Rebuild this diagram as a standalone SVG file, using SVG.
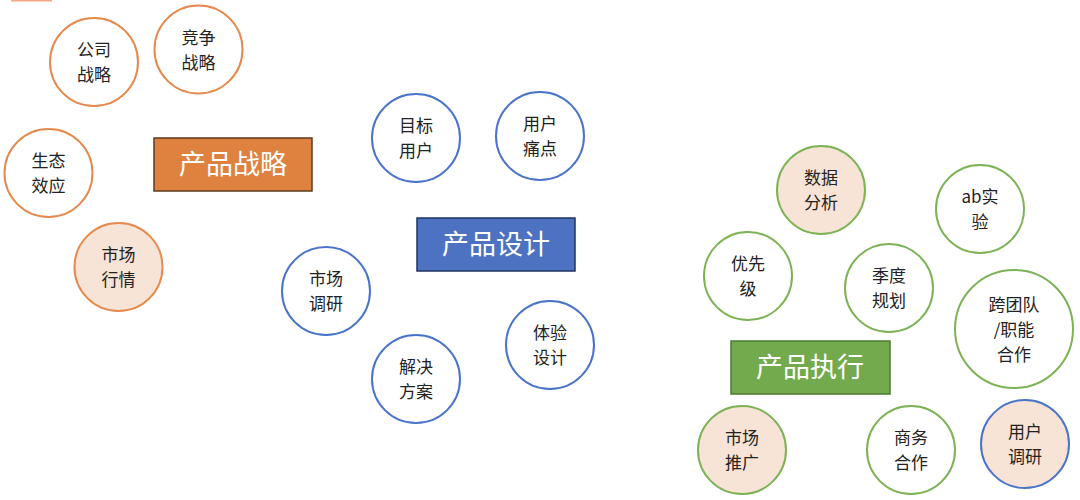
<svg xmlns="http://www.w3.org/2000/svg" width="1080" height="500" viewBox="0 0 1080 500">
<style>
text{font-family:"Noto Sans CJK SC","Noto Sans",sans-serif;text-anchor:middle}
.c text{font-size:17px;fill:#222}
.o{fill:#fff;stroke:#E58A4E;stroke-width:2}
.of{fill:#F8E4D6;stroke:#E58A4E;stroke-width:2}
.b{fill:#fff;stroke:#4A74C9;stroke-width:2}
.g{fill:#fff;stroke:#7DB356;stroke-width:2}
.gf{fill:#F8E4D6;stroke:#7DB356;stroke-width:2}
.bf{fill:#F8E4D6;stroke:#4A74C9;stroke-width:2}
.box text{font-size:27px;fill:#fff}
</style>
<rect width="1080" height="500" fill="#fff"/>
<rect x="11" y="0" width="41" height="1.5" fill="#F4A582"/>
<g id="connectors"></g>

<g id="box-strategy" class="box"><rect x="154" y="138" width="158" height="53" fill="#DF823F" stroke="#5E3B1E" stroke-width="1.5"/><text x="233" y="174">产品战略</text></g>
<g id="box-design" class="box"><rect x="417" y="218" width="158" height="53" fill="#4E72C2" stroke="#1F3560" stroke-width="1.5"/><text x="496" y="254">产品设计</text></g>
<g id="box-exec" class="box"><rect x="731" y="341" width="159" height="53" fill="#74AA4E" stroke="#4E7A32" stroke-width="1.5"/><text x="810" y="377">产品执行</text></g>

<g id="n-gongsi" class="c"><circle cx="94" cy="62" r="44" class="o"/><text x="94" y="56">公司<tspan x="94" dy="25">战略</tspan></text></g>
<g id="n-jingzheng" class="c"><circle cx="198.5" cy="49.5" r="44" class="o"/><text x="198.5" y="43.5">竞争<tspan x="198.5" dy="25">战略</tspan></text></g>
<g id="n-shengtai" class="c"><circle cx="48.5" cy="173" r="44" class="o"/><text x="48.5" y="167">生态<tspan x="48.5" dy="25">效应</tspan></text></g>
<g id="n-hangqing" class="c"><circle cx="118.5" cy="267" r="44" class="of"/><text x="118.5" y="261">市场<tspan x="118.5" dy="25">行情</tspan></text></g>

<g id="n-mubiao" class="c"><circle cx="416" cy="138" r="44" class="b"/><text x="416" y="132">目标<tspan x="416" dy="25">用户</tspan></text></g>
<g id="n-tongdian" class="c"><circle cx="540" cy="136" r="44" class="b"/><text x="540" y="130">用户<tspan x="540" dy="25">痛点</tspan></text></g>
<g id="n-diaoyan" class="c"><circle cx="326" cy="291" r="44" class="b"/><text x="326" y="285">市场<tspan x="326" dy="25">调研</tspan></text></g>
<g id="n-fangan" class="c"><circle cx="416" cy="379" r="44" class="b"/><text x="416" y="373">解决<tspan x="416" dy="25">方案</tspan></text></g>
<g id="n-tiyan" class="c"><circle cx="550" cy="345" r="44" class="b"/><text x="550" y="339">体验<tspan x="550" dy="25">设计</tspan></text></g>

<g id="n-shuju" class="c"><circle cx="821" cy="190" r="44" class="gf"/><text x="821" y="184">数据<tspan x="821" dy="25">分析</tspan></text></g>
<g id="n-ab" class="c"><circle cx="980" cy="209" r="44" class="g"/><text x="980" y="203">ab实<tspan x="980" dy="25">验</tspan></text></g>
<g id="n-youxian" class="c"><circle cx="748" cy="276" r="44" class="g"/><text x="748" y="270">优先<tspan x="748" dy="25">级</tspan></text></g>
<g id="n-jidu" class="c"><circle cx="889" cy="288" r="44" class="g"/><text x="889" y="282">季度<tspan x="889" dy="25">规划</tspan></text></g>
<g id="n-kuatuandui" class="c"><circle cx="1014" cy="329" r="59" class="g"/><text x="1014" y="310.5">跨团队<tspan x="1014" dy="25">/职能</tspan><tspan x="1014" dy="25">合作</tspan></text></g>
<g id="n-tuiguang" class="c"><circle cx="742" cy="450" r="44" class="gf"/><text x="742" y="444">市场<tspan x="742" dy="25">推广</tspan></text></g>
<g id="n-shangwu" class="c"><circle cx="911" cy="450" r="44" class="g"/><text x="911" y="444">商务<tspan x="911" dy="25">合作</tspan></text></g>
<g id="n-yonghudiaoyan" class="c"><circle cx="1025" cy="444" r="44" class="bf"/><text x="1025" y="438">用户<tspan x="1025" dy="25">调研</tspan></text></g>
</svg>
